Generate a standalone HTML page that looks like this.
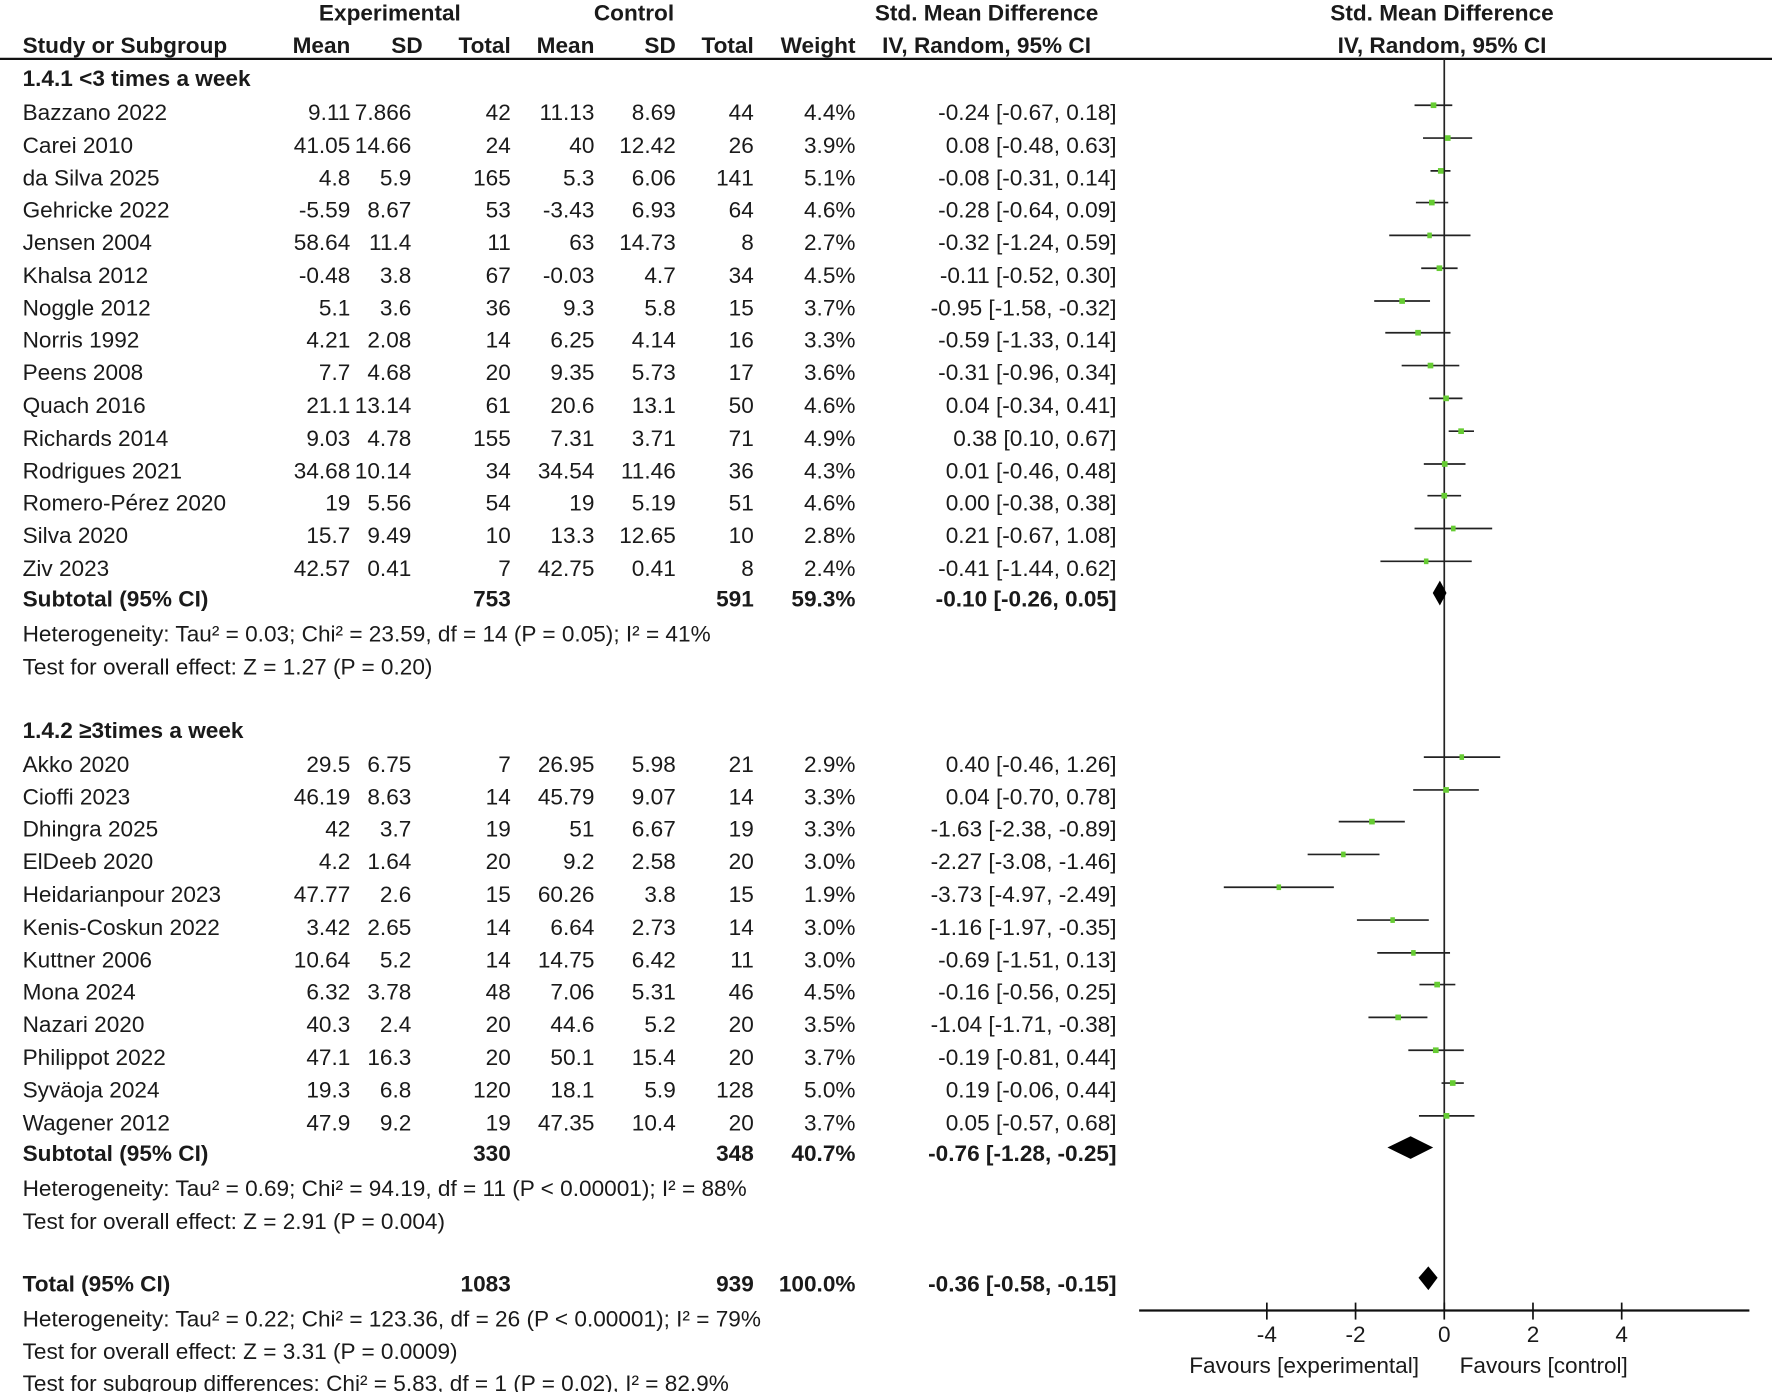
<!DOCTYPE html>
<html><head><meta charset="utf-8"><style>
html,body{margin:0;padding:0;background:#fff;}
svg{display:block;}
text{font-family:"Liberation Sans",sans-serif;font-size:20px;fill:#1a1a1a;}
.b{font-weight:bold;}
.e{text-anchor:end;}
.m{text-anchor:middle;}
</style></head><body>
<svg width="1772" height="1392" viewBox="0 0 1568 1230" preserveAspectRatio="none" xmlns="http://www.w3.org/2000/svg">
<!-- headers -->
<g class="b">
<text class="m b" x="345" y="18">Experimental</text>
<text class="m b" x="561" y="18">Control</text>
<text class="m b" x="873" y="18">Std. Mean Difference</text>
<text class="m b" x="1276" y="18">Std. Mean Difference</text>
<text class="b" x="20" y="47">Study or Subgroup</text>
<text class="e b" x="310" y="47">Mean</text>
<text class="e b" x="374" y="47">SD</text>
<text class="e b" x="452" y="47">Total</text>
<text class="e b" x="526" y="47">Mean</text>
<text class="e b" x="598" y="47">SD</text>
<text class="e b" x="667" y="47">Total</text>
<text class="e b" x="757" y="47">Weight</text>
<text class="m b" x="873" y="47">IV, Random, 95% CI</text>
<text class="m b" x="1276" y="47">IV, Random, 95% CI</text>
</g>
<line x1="0" y1="52" x2="1568" y2="52" stroke="#111" stroke-width="2"/>
<text class="b" x="20" y="76">1.4.1 &lt;3 times a week</text>

<g id="g1">
<text x="20" y="106">Bazzano 2022</text><text class="e" x="310" y="106">9.11</text><text class="e" x="364" y="106">7.866</text><text class="e" x="452" y="106">42</text><text class="e" x="526" y="106">11.13</text><text class="e" x="598" y="106">8.69</text><text class="e" x="667" y="106">44</text><text class="e" x="757" y="106">4.4%</text><text class="e" x="988" y="106">-0.24 [-0.67, 0.18]</text>
<text x="20" y="135">Carei 2010</text><text class="e" x="310" y="135">41.05</text><text class="e" x="364" y="135">14.66</text><text class="e" x="452" y="135">24</text><text class="e" x="526" y="135">40</text><text class="e" x="598" y="135">12.42</text><text class="e" x="667" y="135">26</text><text class="e" x="757" y="135">3.9%</text><text class="e" x="988" y="135">0.08 [-0.48, 0.63]</text>
<text x="20" y="164">da Silva 2025</text><text class="e" x="310" y="164">4.8</text><text class="e" x="364" y="164">5.9</text><text class="e" x="452" y="164">165</text><text class="e" x="526" y="164">5.3</text><text class="e" x="598" y="164">6.06</text><text class="e" x="667" y="164">141</text><text class="e" x="757" y="164">5.1%</text><text class="e" x="988" y="164">-0.08 [-0.31, 0.14]</text>
<text x="20" y="192">Gehricke 2022</text><text class="e" x="310" y="192">-5.59</text><text class="e" x="364" y="192">8.67</text><text class="e" x="452" y="192">53</text><text class="e" x="526" y="192">-3.43</text><text class="e" x="598" y="192">6.93</text><text class="e" x="667" y="192">64</text><text class="e" x="757" y="192">4.6%</text><text class="e" x="988" y="192">-0.28 [-0.64, 0.09]</text>
<text x="20" y="221">Jensen 2004</text><text class="e" x="310" y="221">58.64</text><text class="e" x="364" y="221">11.4</text><text class="e" x="452" y="221">11</text><text class="e" x="526" y="221">63</text><text class="e" x="598" y="221">14.73</text><text class="e" x="667" y="221">8</text><text class="e" x="757" y="221">2.7%</text><text class="e" x="988" y="221">-0.32 [-1.24, 0.59]</text>
<text x="20" y="250">Khalsa 2012</text><text class="e" x="310" y="250">-0.48</text><text class="e" x="364" y="250">3.8</text><text class="e" x="452" y="250">67</text><text class="e" x="526" y="250">-0.03</text><text class="e" x="598" y="250">4.7</text><text class="e" x="667" y="250">34</text><text class="e" x="757" y="250">4.5%</text><text class="e" x="988" y="250">-0.11 [-0.52, 0.30]</text>
<text x="20" y="279">Noggle 2012</text><text class="e" x="310" y="279">5.1</text><text class="e" x="364" y="279">3.6</text><text class="e" x="452" y="279">36</text><text class="e" x="526" y="279">9.3</text><text class="e" x="598" y="279">5.8</text><text class="e" x="667" y="279">15</text><text class="e" x="757" y="279">3.7%</text><text class="e" x="988" y="279">-0.95 [-1.58, -0.32]</text>
<text x="20" y="307">Norris 1992</text><text class="e" x="310" y="307">4.21</text><text class="e" x="364" y="307">2.08</text><text class="e" x="452" y="307">14</text><text class="e" x="526" y="307">6.25</text><text class="e" x="598" y="307">4.14</text><text class="e" x="667" y="307">16</text><text class="e" x="757" y="307">3.3%</text><text class="e" x="988" y="307">-0.59 [-1.33, 0.14]</text>
<text x="20" y="336">Peens 2008</text><text class="e" x="310" y="336">7.7</text><text class="e" x="364" y="336">4.68</text><text class="e" x="452" y="336">20</text><text class="e" x="526" y="336">9.35</text><text class="e" x="598" y="336">5.73</text><text class="e" x="667" y="336">17</text><text class="e" x="757" y="336">3.6%</text><text class="e" x="988" y="336">-0.31 [-0.96, 0.34]</text>
<text x="20" y="365">Quach 2016</text><text class="e" x="310" y="365">21.1</text><text class="e" x="364" y="365">13.14</text><text class="e" x="452" y="365">61</text><text class="e" x="526" y="365">20.6</text><text class="e" x="598" y="365">13.1</text><text class="e" x="667" y="365">50</text><text class="e" x="757" y="365">4.6%</text><text class="e" x="988" y="365">0.04 [-0.34, 0.41]</text>
<text x="20" y="394">Richards 2014</text><text class="e" x="310" y="394">9.03</text><text class="e" x="364" y="394">4.78</text><text class="e" x="452" y="394">155</text><text class="e" x="526" y="394">7.31</text><text class="e" x="598" y="394">3.71</text><text class="e" x="667" y="394">71</text><text class="e" x="757" y="394">4.9%</text><text class="e" x="988" y="394">0.38 [0.10, 0.67]</text>
<text x="20" y="423">Rodrigues 2021</text><text class="e" x="310" y="423">34.68</text><text class="e" x="364" y="423">10.14</text><text class="e" x="452" y="423">34</text><text class="e" x="526" y="423">34.54</text><text class="e" x="598" y="423">11.46</text><text class="e" x="667" y="423">36</text><text class="e" x="757" y="423">4.3%</text><text class="e" x="988" y="423">0.01 [-0.46, 0.48]</text>
<text x="20" y="451">Romero-Pérez 2020</text><text class="e" x="310" y="451">19</text><text class="e" x="364" y="451">5.56</text><text class="e" x="452" y="451">54</text><text class="e" x="526" y="451">19</text><text class="e" x="598" y="451">5.19</text><text class="e" x="667" y="451">51</text><text class="e" x="757" y="451">4.6%</text><text class="e" x="988" y="451">0.00 [-0.38, 0.38]</text>
<text x="20" y="480">Silva 2020</text><text class="e" x="310" y="480">15.7</text><text class="e" x="364" y="480">9.49</text><text class="e" x="452" y="480">10</text><text class="e" x="526" y="480">13.3</text><text class="e" x="598" y="480">12.65</text><text class="e" x="667" y="480">10</text><text class="e" x="757" y="480">2.8%</text><text class="e" x="988" y="480">0.21 [-0.67, 1.08]</text>
<text x="20" y="509">Ziv 2023</text><text class="e" x="310" y="509">42.57</text><text class="e" x="364" y="509">0.41</text><text class="e" x="452" y="509">7</text><text class="e" x="526" y="509">42.75</text><text class="e" x="598" y="509">0.41</text><text class="e" x="667" y="509">8</text><text class="e" x="757" y="509">2.4%</text><text class="e" x="988" y="509">-0.41 [-1.44, 0.62]</text>
</g>
<text class="b" x="20" y="536">Subtotal (95% CI)</text><text class="e b" x="452" y="536">753</text><text class="e b" x="667" y="536">591</text><text class="e b" x="757" y="536">59.3%</text><text class="e b" x="988" y="536">-0.10 [-0.26, 0.05]</text>
<text x="20" y="567">Heterogeneity: Tau² = 0.03; Chi² = 23.59, df = 14 (P = 0.05); I² = 41%</text>
<text x="20" y="596">Test for overall effect: Z = 1.27 (P = 0.20)</text>

<text class="b" x="20" y="652">1.4.2 ≥3times a week</text>
<g>
<text x="20" y="682">Akko 2020</text><text class="e" x="310" y="682">29.5</text><text class="e" x="364" y="682">6.75</text><text class="e" x="452" y="682">7</text><text class="e" x="526" y="682">26.95</text><text class="e" x="598" y="682">5.98</text><text class="e" x="667" y="682">21</text><text class="e" x="757" y="682">2.9%</text><text class="e" x="988" y="682">0.40 [-0.46, 1.26]</text>
<text x="20" y="711">Cioffi 2023</text><text class="e" x="310" y="711">46.19</text><text class="e" x="364" y="711">8.63</text><text class="e" x="452" y="711">14</text><text class="e" x="526" y="711">45.79</text><text class="e" x="598" y="711">9.07</text><text class="e" x="667" y="711">14</text><text class="e" x="757" y="711">3.3%</text><text class="e" x="988" y="711">0.04 [-0.70, 0.78]</text>
<text x="20" y="739">Dhingra 2025</text><text class="e" x="310" y="739">42</text><text class="e" x="364" y="739">3.7</text><text class="e" x="452" y="739">19</text><text class="e" x="526" y="739">51</text><text class="e" x="598" y="739">6.67</text><text class="e" x="667" y="739">19</text><text class="e" x="757" y="739">3.3%</text><text class="e" x="988" y="739">-1.63 [-2.38, -0.89]</text>
<text x="20" y="768">ElDeeb 2020</text><text class="e" x="310" y="768">4.2</text><text class="e" x="364" y="768">1.64</text><text class="e" x="452" y="768">20</text><text class="e" x="526" y="768">9.2</text><text class="e" x="598" y="768">2.58</text><text class="e" x="667" y="768">20</text><text class="e" x="757" y="768">3.0%</text><text class="e" x="988" y="768">-2.27 [-3.08, -1.46]</text>
<text x="20" y="797">Heidarianpour 2023</text><text class="e" x="310" y="797">47.77</text><text class="e" x="364" y="797">2.6</text><text class="e" x="452" y="797">15</text><text class="e" x="526" y="797">60.26</text><text class="e" x="598" y="797">3.8</text><text class="e" x="667" y="797">15</text><text class="e" x="757" y="797">1.9%</text><text class="e" x="988" y="797">-3.73 [-4.97, -2.49]</text>
<text x="20" y="826">Kenis-Coskun 2022</text><text class="e" x="310" y="826">3.42</text><text class="e" x="364" y="826">2.65</text><text class="e" x="452" y="826">14</text><text class="e" x="526" y="826">6.64</text><text class="e" x="598" y="826">2.73</text><text class="e" x="667" y="826">14</text><text class="e" x="757" y="826">3.0%</text><text class="e" x="988" y="826">-1.16 [-1.97, -0.35]</text>
<text x="20" y="855">Kuttner 2006</text><text class="e" x="310" y="855">10.64</text><text class="e" x="364" y="855">5.2</text><text class="e" x="452" y="855">14</text><text class="e" x="526" y="855">14.75</text><text class="e" x="598" y="855">6.42</text><text class="e" x="667" y="855">11</text><text class="e" x="757" y="855">3.0%</text><text class="e" x="988" y="855">-0.69 [-1.51, 0.13]</text>
<text x="20" y="883">Mona 2024</text><text class="e" x="310" y="883">6.32</text><text class="e" x="364" y="883">3.78</text><text class="e" x="452" y="883">48</text><text class="e" x="526" y="883">7.06</text><text class="e" x="598" y="883">5.31</text><text class="e" x="667" y="883">46</text><text class="e" x="757" y="883">4.5%</text><text class="e" x="988" y="883">-0.16 [-0.56, 0.25]</text>
<text x="20" y="912">Nazari 2020</text><text class="e" x="310" y="912">40.3</text><text class="e" x="364" y="912">2.4</text><text class="e" x="452" y="912">20</text><text class="e" x="526" y="912">44.6</text><text class="e" x="598" y="912">5.2</text><text class="e" x="667" y="912">20</text><text class="e" x="757" y="912">3.5%</text><text class="e" x="988" y="912">-1.04 [-1.71, -0.38]</text>
<text x="20" y="941">Philippot 2022</text><text class="e" x="310" y="941">47.1</text><text class="e" x="364" y="941">16.3</text><text class="e" x="452" y="941">20</text><text class="e" x="526" y="941">50.1</text><text class="e" x="598" y="941">15.4</text><text class="e" x="667" y="941">20</text><text class="e" x="757" y="941">3.7%</text><text class="e" x="988" y="941">-0.19 [-0.81, 0.44]</text>
<text x="20" y="970">Syväoja 2024</text><text class="e" x="310" y="970">19.3</text><text class="e" x="364" y="970">6.8</text><text class="e" x="452" y="970">120</text><text class="e" x="526" y="970">18.1</text><text class="e" x="598" y="970">5.9</text><text class="e" x="667" y="970">128</text><text class="e" x="757" y="970">5.0%</text><text class="e" x="988" y="970">0.19 [-0.06, 0.44]</text>
<text x="20" y="999">Wagener 2012</text><text class="e" x="310" y="999">47.9</text><text class="e" x="364" y="999">9.2</text><text class="e" x="452" y="999">19</text><text class="e" x="526" y="999">47.35</text><text class="e" x="598" y="999">10.4</text><text class="e" x="667" y="999">20</text><text class="e" x="757" y="999">3.7%</text><text class="e" x="988" y="999">0.05 [-0.57, 0.68]</text>
</g>
<text class="b" x="20" y="1026">Subtotal (95% CI)</text><text class="e b" x="452" y="1026">330</text><text class="e b" x="667" y="1026">348</text><text class="e b" x="757" y="1026">40.7%</text><text class="e b" x="988" y="1026">-0.76 [-1.28, -0.25]</text>
<text x="20" y="1057">Heterogeneity: Tau² = 0.69; Chi² = 94.19, df = 11 (P &lt; 0.00001); I² = 88%</text>
<text x="20" y="1086">Test for overall effect: Z = 2.91 (P = 0.004)</text>

<text class="b" x="20" y="1141">Total (95% CI)</text><text class="e b" x="452" y="1141">1083</text><text class="e b" x="667" y="1141">939</text><text class="e b" x="757" y="1141">100.0%</text><text class="e b" x="988" y="1141">-0.36 [-0.58, -0.15]</text>
<text x="20" y="1172">Heterogeneity: Tau² = 0.22; Chi² = 123.36, df = 26 (P &lt; 0.00001); I² = 79%</text>
<text x="20" y="1201">Test for overall effect: Z = 3.31 (P = 0.0009)</text>
<text x="20" y="1229">Test for subgroup differences: Chi² = 5.83, df = 1 (P = 0.02), I² = 82.9%</text>

<!-- plot -->
<line x1="1278" y1="52" x2="1278" y2="1158" stroke="#222" stroke-width="1.5"/>
<line x1="1008" y1="1158" x2="1548" y2="1158" stroke="#111" stroke-width="2"/>
<g stroke="#111" stroke-width="1.5">
<line x1="1121" y1="1151" x2="1121" y2="1166"/><line x1="1199.5" y1="1151" x2="1199.5" y2="1166"/><line x1="1278" y1="1151" x2="1278" y2="1166"/><line x1="1356.5" y1="1151" x2="1356.5" y2="1166"/><line x1="1435" y1="1151" x2="1435" y2="1166"/>
</g>
<g class="m">
<text class="m" x="1121" y="1186">-4</text><text class="m" x="1199.5" y="1186">-2</text><text class="m" x="1278" y="1186">0</text><text class="m" x="1356.5" y="1186">2</text><text class="m" x="1435" y="1186">4</text>
</g>
<text class="m" x="1154" y="1213">Favours [experimental]</text>
<text class="m" x="1366" y="1213">Favours [control]</text>

<g stroke="#222" stroke-width="1.5">
<line x1="1251.7" y1="93" x2="1285.1" y2="93"/>
<line x1="1259.2" y1="122" x2="1302.7" y2="122"/>
<line x1="1265.8" y1="151" x2="1283.5" y2="151"/>
<line x1="1252.9" y1="179" x2="1281.5" y2="179"/>
<line x1="1229.3" y1="208" x2="1301.2" y2="208"/>
<line x1="1257.6" y1="237" x2="1289.8" y2="237"/>
<line x1="1216.0" y1="266" x2="1265.4" y2="266"/>
<line x1="1225.8" y1="294" x2="1283.5" y2="294"/>
<line x1="1240.3" y1="323" x2="1291.3" y2="323"/>
<line x1="1264.7" y1="352" x2="1294.1" y2="352"/>
<line x1="1281.9" y1="381" x2="1304.3" y2="381"/>
<line x1="1259.9" y1="410" x2="1296.8" y2="410"/>
<line x1="1263.1" y1="438" x2="1292.9" y2="438"/>
<line x1="1251.7" y1="467" x2="1320.4" y2="467"/>
<line x1="1221.5" y1="496" x2="1302.3" y2="496"/>
<line x1="1259.9" y1="669" x2="1327.5" y2="669"/>
<line x1="1250.5" y1="698" x2="1308.6" y2="698"/>
<line x1="1184.6" y1="726" x2="1243.1" y2="726"/>
<line x1="1157.1" y1="755" x2="1220.7" y2="755"/>
<line x1="1082.9" y1="784" x2="1180.3" y2="784"/>
<line x1="1200.7" y1="813" x2="1264.3" y2="813"/>
<line x1="1218.7" y1="842" x2="1283.1" y2="842"/>
<line x1="1256.0" y1="870" x2="1287.8" y2="870"/>
<line x1="1210.9" y1="899" x2="1263.1" y2="899"/>
<line x1="1246.2" y1="928" x2="1295.3" y2="928"/>
<line x1="1275.6" y1="957" x2="1295.3" y2="957"/>
<line x1="1255.6" y1="986" x2="1304.7" y2="986"/>
</g>
<g fill="#66cc33">
<rect x="1266" y="90.5" width="5" height="5"/>
<rect x="1278.6" y="119.5" width="5" height="5"/>
<rect x="1272.4" y="148.5" width="5" height="5"/>
<rect x="1264.5" y="176.5" width="5" height="5"/>
<rect x="1263" y="205.5" width="4" height="5"/>
<rect x="1271.2" y="234.5" width="5" height="5"/>
<rect x="1238.2" y="263.5" width="5" height="5"/>
<rect x="1252.3" y="291.5" width="5" height="5"/>
<rect x="1263.3" y="320.5" width="5" height="5"/>
<rect x="1277.1" y="349.5" width="5" height="5"/>
<rect x="1290.4" y="378.5" width="5" height="5"/>
<rect x="1275.9" y="407.5" width="5" height="5"/>
<rect x="1275.5" y="435.5" width="5" height="5"/>
<rect x="1284" y="464.5" width="4" height="5"/>
<rect x="1260" y="493.5" width="4" height="5"/>
<rect x="1291.5" y="666.5" width="4" height="5"/>
<rect x="1277.1" y="695.5" width="5" height="5"/>
<rect x="1211.5" y="723.5" width="5" height="5"/>
<rect x="1186.7" y="752.5" width="4" height="5"/>
<rect x="1129.6" y="781.5" width="4" height="5"/>
<rect x="1230.3" y="810.5" width="4" height="5"/>
<rect x="1248.7" y="839.5" width="4" height="5"/>
<rect x="1269.2" y="867.5" width="5" height="5"/>
<rect x="1234.7" y="896.5" width="5" height="5"/>
<rect x="1268" y="925.5" width="5" height="5"/>
<rect x="1283" y="954.5" width="5" height="5"/>
<rect x="1277.5" y="983.5" width="5" height="5"/>
</g>
<g fill="#000">
<polygon points="1267.8,524 1274.1,513 1280,524 1274.1,535"/>
<polygon points="1227.7,1014 1248.2,1004 1268.2,1014 1248.2,1024"/>
<polygon points="1255.2,1129 1263.9,1119 1272.1,1129 1263.9,1140"/>
</g>
</svg>
</body></html>
